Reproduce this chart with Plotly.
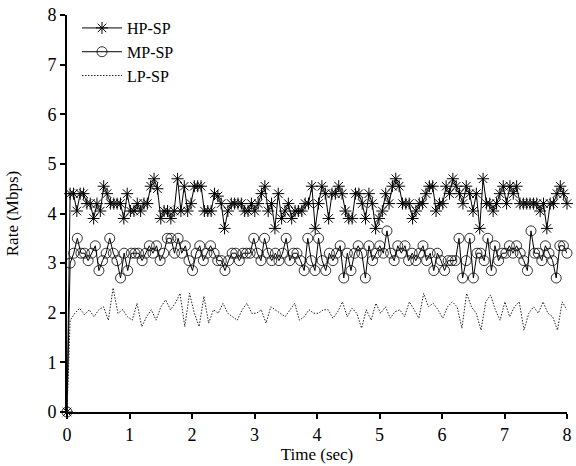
import numpy as np
import plotly.graph_objects as go

# HP-SP rate samples (Mbps)
hp = [4.4, 4.4, 4.05, 4.4, 4.4, 4.2, 4.2, 3.9, 4.2, 4.05, 4.55, 4.4, 4.2, 4.2, 4.2, 4.2, 3.9, 4.4,
      4.05, 4.05, 4.2, 4.05, 4.2, 4.2, 4.55, 4.7, 4.5, 3.9, 4.05, 4.05, 3.9, 4.05, 4.7, 4.05, 4.55,
      4.05, 4.2, 4.55, 4.55, 4.55, 4.05, 4.05, 4.05, 4.4, 4.35, 4.2, 3.7, 4.05, 4.2, 4.2, 4.2, 4.2,
      4.05, 4.05, 4.2, 4.05, 4.2, 4.4, 4.55, 4.05, 4.2, 3.7, 4.4, 3.9, 4.05, 4.2, 3.9, 4.05, 4.05,
      4.05, 4.2,
      4.2, 4.55, 3.7, 4.2, 4.55, 4.4, 3.9, 4.4, 4.4, 4.55, 4.4, 4.05, 3.9, 3.9, 4.4, 4.4, 4.2, 3.9,
      4.4, 4.2, 3.7, 3.9, 4.05, 4.4, 4.2, 4.55, 4.7, 4.55, 4.2, 4.2, 4.2, 3.9, 4.05, 4.2, 4.2, 4.4,
      4.55,
      4.55, 4.05, 4.2, 4.2, 4.55, 4.4, 4.7, 4.55, 4.4, 4.2, 4.55, 4.4, 4.05, 4.4, 3.7, 4.7, 4.2, 4.2,
      4.05, 4.2, 4.4, 4.55, 4.2, 4.55, 4.4, 4.55, 4.2, 4.2, 4.2, 4.2, 4.2, 4.2, 4.05, 4.2, 3.7, 4.2,
      4.2, 4.4, 4.55, 4.4, 4.2]

# MP-SP rate samples (Mbps)
mp = [3.0, 3.2, 3.5, 3.2, 3.2, 3.05, 3.2, 3.35, 2.85, 3.05, 3.2, 3.5, 3.2, 3.05, 2.7, 3.2, 2.85,
      3.2, 3.2, 3.2, 3.05, 3.2, 3.35, 3.2, 3.35, 3.05, 3.2, 3.5, 3.5, 3.2,
      3.5, 3.2, 3.35, 3.05, 2.85, 3.2, 3.35, 3.05, 3.2, 3.35, 3.2, 3.05, 3.05, 2.85, 3.05, 3.2, 3.2,
      3.05, 3.2, 3.2, 3.2, 3.5, 3.2, 3.05, 3.5, 3.2, 3.05, 3.2, 3.05, 3.2, 3.5, 3.05, 3.2, 3.2, 3.05,
      2.85, 3.5, 3.05, 2.85,
      3.5, 3.05, 2.85, 3.2, 3.05, 3.2, 3.35, 2.7, 3.2, 2.85, 3.2, 3.35, 3.2, 2.7, 3.35, 3.05, 3.2,
      3.35, 3.2, 3.65, 3.2, 3.05, 3.35, 3.2, 3.35, 3.05, 3.2, 3.05, 3.2, 3.35, 3.05, 3.2, 2.85,
      3.2, 3.05, 2.85, 3.05, 3.05, 3.05, 3.5, 2.7, 3.05, 3.5, 2.7, 3.2, 3.2, 3.05, 3.5, 2.85, 3.35,
      3.05, 3.2, 3.2, 3.35, 3.2, 3.35, 3.2, 3.05, 2.85, 3.65, 3.2, 3.2, 3.05, 3.35, 3.2, 3.05, 2.7,
      3.35, 3.35, 3.2]

# LP-SP rate samples (Mbps)
lp = [1.85, 1.99, 2.09, 1.96, 2.06, 1.92, 2.06, 2.12, 1.85, 2.5, 1.99, 2.06, 1.92, 1.85, 2.19,
      1.72, 1.92, 2.06, 1.85, 2.12, 2.26, 2.06, 2.19, 2.39, 1.72, 2.39, 1.99, 1.72, 2.33, 1.79,
      2.06, 1.99, 2.19, 1.99, 1.92, 1.85, 2.06, 2.19, 1.99, 1.99, 2.06, 1.79, 2.12, 2.06, 1.99,
      1.92, 2.06, 2.19, 1.85, 1.92, 2.06, 1.99,
      1.99, 2.06, 2.06, 1.89, 2.02, 2.22, 1.92, 2.09, 1.99, 1.69, 2.06, 1.85, 2.19, 1.99, 2.12,
      1.89, 2.02, 2.06, 1.92, 2.22, 2.06, 1.89, 2.39, 2.12, 2.19, 2.06, 1.89, 2.12, 2.22, 2.12,
      1.69, 2.39, 2.12, 1.99, 1.65, 2.22, 2.36, 2.06, 1.85, 2.22, 1.92, 2.12, 2.22, 1.65, 1.99,
      2.12, 1.99, 2.22, 1.99, 1.92, 1.65, 2.22, 2.06]

x_ticks = [0, 1, 2, 3, 4, 5, 6, 7, 8]
y_ticks = [0, 1, 2, 3, 4, 5, 6, 7, 8]

T_END = 8.0
T_FIRST = 0.05


def times(n):
    return [0.0] + list(np.linspace(T_FIRST, T_END, n))


FONT = "Liberation Serif"

fig = go.Figure()
fig.add_trace(go.Scatter(
    x=times(len(hp)), y=[0.0] + hp, name="HP-SP", mode="lines+markers",
    line=dict(color="black", width=1),
    marker=dict(symbol="asterisk-open", size=10, color="black", line=dict(width=1, color="black")),
    cliponaxis=False))
fig.add_trace(go.Scatter(
    x=times(len(mp)), y=[0.0] + mp, name="MP-SP", mode="lines+markers",
    line=dict(color="black", width=1),
    marker=dict(symbol="circle-open", size=10, color="black", line=dict(width=0.8, color="#333")),
    cliponaxis=False))
fig.add_trace(go.Scatter(
    x=times(len(lp)), y=[0.0] + lp, name="LP-SP", mode="lines",
    line=dict(color="#222", width=1, dash="1.5px,1.5px"),
    cliponaxis=False))

axis_common = dict(
    showline=True, linewidth=2, linecolor="black", ticks="outside", ticklen=5,
    tickwidth=1.5, tickcolor="black", showgrid=False, zeroline=False, range=[0, 8],
    tickfont=dict(family=FONT, size=18, color="black"), ticklabeloverflow="allow",
)
fig.update_xaxes(tickvals=x_ticks, title=dict(text="Time (sec)", font=dict(family=FONT, size=17, color="black"), standoff=0),
                 **axis_common)
fig.update_yaxes(tickvals=y_ticks, title=dict(text="Rate (Mbps)", font=dict(family=FONT, size=17, color="black"), standoff=24),
                 **axis_common)

fig.update_layout(
    width=576, height=466,
    margin=dict(l=67, r=4, t=15, b=54),
    plot_bgcolor="white", paper_bgcolor="white",
    font=dict(family=FONT, color="black"),
    legend=dict(x=0.02, y=1.01, xanchor="left", yanchor="top", bgcolor="rgba(0,0,0,0)",
                font=dict(family=FONT, size=16, color="black"), tracegroupgap=0, itemwidth=40),
    showlegend=True,
)

fig.write_html("out.html", config={"displayModeBar": False},
               post_script="document.body.style.margin='0';document.body.style.overflow='hidden';")
